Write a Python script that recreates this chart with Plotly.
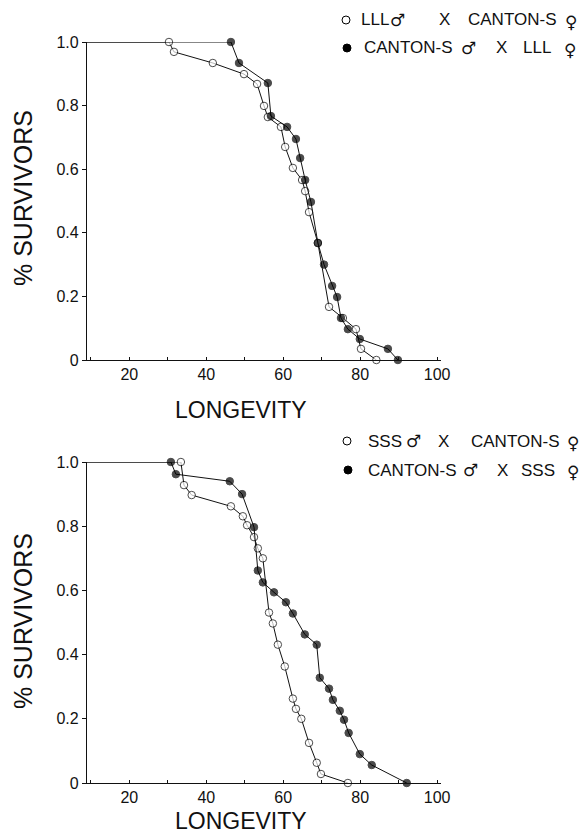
import plotly.graph_objects as go

W, H = 582, 834

# ---------------- data ----------------
X_START = 9  # curves start at 100 % survival from the axis origin

top_open_x = [30.3, 31.6, 41.7, 49.8, 53.2, 55.0, 56.0, 59.4, 60.5, 62.5, 64.9, 65.7, 66.7, 69.0, 71.9, 75.5, 78.9, 80.2, 84.2]
top_open_y = [1.0, 0.969, 0.934, 0.899, 0.868, 0.799, 0.764, 0.733, 0.670, 0.604, 0.566, 0.531, 0.465, 0.368, 0.167, 0.132, 0.097, 0.035, 0.0]

top_fill_x = [46.4, 48.5, 56.0, 56.8, 61.0, 63.3, 64.4, 65.7, 67.2, 69.0, 70.6, 72.7, 74.0, 75.0, 76.8, 79.9, 87.2, 89.8]
top_fill_y = [1.0, 0.934, 0.871, 0.767, 0.733, 0.695, 0.635, 0.566, 0.497, 0.368, 0.300, 0.233, 0.198, 0.132, 0.097, 0.066, 0.035, 0.0]

bot_open_x = [33.4, 34.2, 36.2, 46.4, 49.5, 50.6, 52.4, 53.4, 54.7, 56.3, 57.3, 58.6, 60.4, 62.5, 63.3, 64.7, 66.7, 68.7, 69.8, 76.8]
bot_open_y = [1.0, 0.928, 0.897, 0.862, 0.831, 0.803, 0.766, 0.731, 0.700, 0.531, 0.497, 0.431, 0.363, 0.263, 0.231, 0.200, 0.125, 0.063, 0.028, 0.0]

bot_fill_x = [30.8, 32.1, 46.1, 49.3, 52.4, 53.4, 54.7, 57.6, 60.7, 62.5, 65.6, 68.7, 69.5, 71.9, 72.9, 74.7, 75.8, 77.0, 79.9, 83.0, 92.1]
bot_fill_y = [1.0, 0.962, 0.940, 0.900, 0.797, 0.662, 0.625, 0.594, 0.563, 0.528, 0.463, 0.431, 0.328, 0.294, 0.259, 0.225, 0.197, 0.156, 0.090, 0.056, 0.0]

y_ticks = [0, 0.2, 0.4, 0.6, 0.8, 1.0]
y_ticktext = ["0", "0.2", "0.4", "0.6", "0.8", "1.0"]
x_ticks = [10, 20, 30, 40, 50, 60, 70, 80, 90, 100]
x_ticktext = ["", "20", "", "40", "", "60", "", "80", "", "100"]

legend_top = [["LLL", "♂", "X", "CANTON-S", "♀"], ["CANTON-S", "♂", "X", "LLL", "♀"]]
legend_bot = [["SSS", "♂", "X", "CANTON-S", "♀"], ["CANTON-S", "♂", "X", "SSS", "♀"]]

FONT = "Liberation Sans"
INK = "#111111"


def px(x):
    return x / W


def py(y):
    return 1 - y / H


fig = go.Figure()


def add_series(xs, ys, filled, xa, ya):
    xx = [X_START] + xs
    yy = [1.0] + ys
    sizes = [0] + [7.5] * len(xs)
    fig.add_trace(go.Scatter(
        x=xx, y=yy, mode="lines+markers", xaxis=xa, yaxis=ya,
        line=dict(color=INK, width=1),
        marker=dict(size=sizes, symbol="circle",
                    color="#000000" if filled else "white",
                    line=dict(color="#000000", width=1)),
        cliponaxis=False, showlegend=False, hoverinfo="x+y"))


add_series(top_open_x, top_open_y, False, "x", "y")
add_series(top_fill_x, top_fill_y, True, "x", "y")
add_series(bot_open_x, bot_open_y, False, "x2", "y2")
add_series(bot_fill_x, bot_fill_y, True, "x2", "y2")

xdom = [px(87), px(441)]
xcommon = dict(range=[9, 101], showgrid=False, zeroline=False, showline=True,
               linecolor=INK, linewidth=1.2, tickvals=x_ticks, ticktext=x_ticktext,
               ticks="inside", ticklen=3, tickcolor=INK, automargin=False,
               tickfont=dict(family=FONT, size=16, color=INK))
ycommon = dict(range=[0, 1], showgrid=False, zeroline=False, showline=True,
               linecolor=INK, linewidth=1.2, tickvals=y_ticks, ticktext=y_ticktext,
               ticks="outside", ticklen=4, tickcolor=INK, automargin=False,
               tickfont=dict(family=FONT, size=16, color=INK))

fig.update_layout(
    width=W, height=H, margin=dict(l=0, r=0, t=0, b=0, pad=0, autoexpand=False),
    paper_bgcolor="white", plot_bgcolor="white", showlegend=False,
    xaxis=dict(domain=xdom, anchor="y", **xcommon),
    yaxis=dict(domain=[py(360), py(42)], anchor="x", **ycommon),
    xaxis2=dict(domain=xdom, anchor="y2", **xcommon),
    yaxis2=dict(domain=[py(783), py(462)], anchor="x2", **ycommon),
)

ann = []
shapes = []
# axis titles
for cy in (198, 621):
    ann.append(dict(x=px(23), y=py(cy), xref="paper", yref="paper", text="% SURVIVORS",
                    textangle=-90, showarrow=False, xanchor="center", yanchor="middle",
                    font=dict(family=FONT, size=25, color=INK)))
for cy in (410, 821):
    ann.append(dict(x=px(241), y=py(cy), xref="paper", yref="paper", text="LONGEVITY",
                    showarrow=False, xanchor="center", yanchor="middle",
                    font=dict(family=FONT, size=23, color=INK)))

# legends
token_x = [[375, 397, 444, 512, 571], [408, 468, 501, 537, 570]]
token_x_b = [[385, 413, 443, 515, 573], [412, 470, 502, 538, 573]]
for legend, xs_list, ys, mx in ((legend_top, token_x, (20, 48), (346, 347)),
                                (legend_bot, token_x_b, (441, 470), (347, 348))):
    for row in range(2):
        cy = ys[row]
        r = 4
        shapes.append(dict(type="circle", xref="paper", yref="paper",
                           x0=px(mx[row] - r), x1=px(mx[row] + r),
                           y0=py(cy + r), y1=py(cy - r),
                           line=dict(color="#000000", width=1),
                           fillcolor="white" if row == 0 else "#000000"))
        for tok, tx in zip(legend[row], xs_list[row]):
            sym = tok in ("♂", "♀")
            ann.append(dict(x=px(tx), y=py(cy + (2 if tok == "♀" else 0)), xref="paper", yref="paper",
                            text=tok, showarrow=False, xanchor="center", yanchor="middle",
                            font=dict(family="DejaVu Sans" if sym else FONT,
                                      size=17, color=INK)))

fig.update_layout(annotations=ann, shapes=shapes)
fig.write_html("out.html", config={"displayModeBar": False},
               post_script="document.body.style.margin='0';document.body.style.overflow='hidden';")
